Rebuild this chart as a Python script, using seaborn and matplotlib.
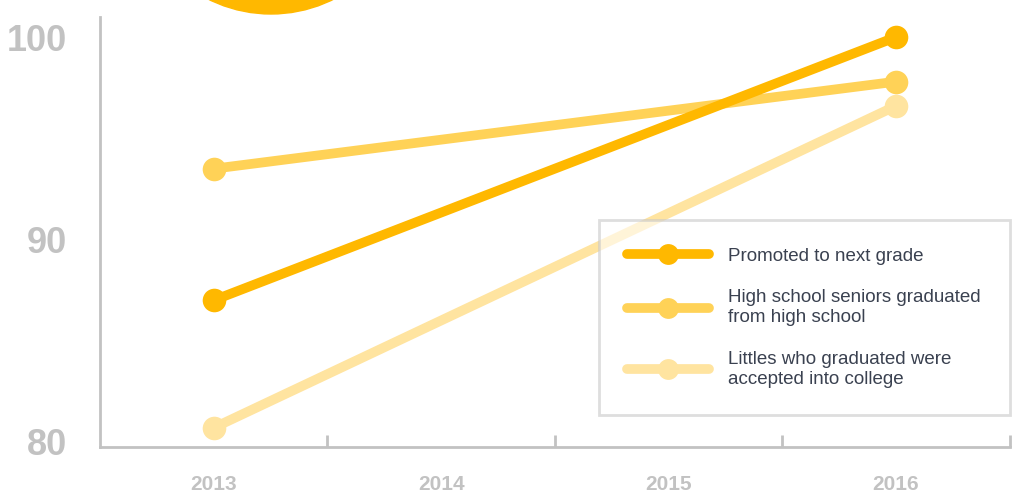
import pandas as pd
import seaborn as sns
import matplotlib.pyplot as plt
from matplotlib.patches import Circle
from matplotlib.lines import Line2D

# Chart data
years = [2013, 2016]
tick_years = [2013, 2014, 2015, 2016]
series_names = ['Promoted to next grade',
                'High school seniors graduated\nfrom high school',
                'Littles who graduated were\naccepted into college']
promoted = [87.0, 100.0]
hs_graduated = [93.5, 97.8]
college = [80.7, 96.6]
colors = ['#FFB800', '#FFD257', '#FFE4A0']

rows = []
for name, vals in zip(series_names, [promoted, hs_graduated, college]):
    for yr, v in zip(years, vals):
        rows.append({'year': yr, 'value': v, 'series': name})
df = pd.DataFrame(rows)

sns.set_style('white')
plt.rcParams['font.family'] = ['Liberation Sans', 'DejaVu Sans']

fig = plt.figure(figsize=(10.26, 4.97), dpi=100)
ax = fig.add_axes([0.0975, 0.1006, 0.8865, 0.8654])

# draw back to front so the darkest line sits on top
for name, col in list(zip(series_names, colors))[::-1]:
    sns.lineplot(data=df[df['series'] == name], x='year', y='value', color=col,
                 linewidth=7, marker='o', markersize=17, markeredgewidth=0,
                 ax=ax, legend=False)

ax.set_xlim(2012.5, 2016.5)
ax.set_ylim(79.75, 101)
ax.set_xticks(tick_years)
ax.set_xticklabels([str(y) for y in tick_years])
ax.set_xticks([2013.5, 2014.5, 2015.5, 2016.5], minor=True)
ax.set_yticks([80, 90, 100])
ax.set_xlabel('')
ax.set_ylabel('')

grey = '#C2C2C2'
for side in ['top', 'right']:
    ax.spines[side].set_visible(False)
for side in ['left', 'bottom']:
    ax.spines[side].set_color(grey)
    ax.spines[side].set_linewidth(2)
ax.tick_params(axis='x', which='major', length=0, pad=20, labelsize=15,
               labelcolor=grey)
ax.tick_params(axis='x', which='minor', direction='in', length=9, width=2,
               color=grey, bottom=True)
ax.tick_params(axis='y', length=0, pad=24, labelsize=26, labelcolor=grey)
for lab in ax.get_xticklabels() + ax.get_yticklabels():
    lab.set_fontweight('bold')

handles = [Line2D([], [], color=c, linewidth=7, marker='o', markersize=15,
                  markeredgewidth=0) for c in colors]
leg = ax.legend(handles, series_names, loc='lower left',
                bbox_to_anchor=(0.549, 0.074, 0.451, 0.461), mode='expand',
                frameon=True, fancybox=False, handlelength=4.4,
                handletextpad=1.0, labelspacing=1.3, borderpad=1.45,
                prop={'size': 13.5}, labelcolor='#3A4150', borderaxespad=0,
                framealpha=0.6)
for t in leg.get_texts():
    t.set_linespacing(1.25)
leg.get_frame().set_edgecolor('#C8C8C8')
leg.get_frame().set_linewidth(2)

# decorative circle peeking in at the top
circ = Circle((271, 497 + 126), 140, transform=None, color='#FFB800', zorder=0)
fig.patches.append(circ)

fig.savefig('out.png', dpi=100)
